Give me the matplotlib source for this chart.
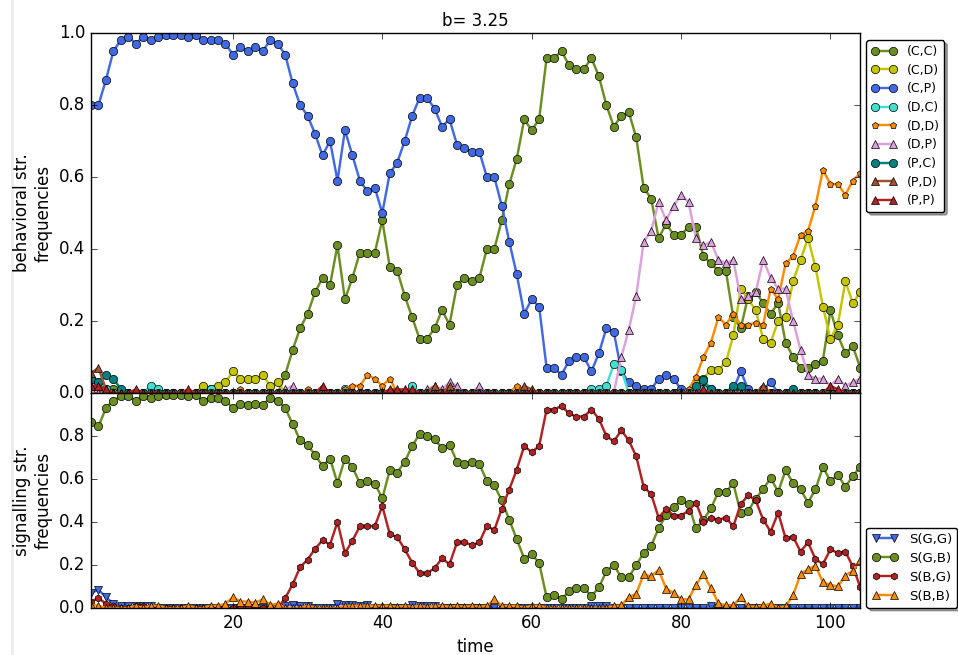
import numpy as np
import matplotlib
matplotlib.use('Agg')
import matplotlib.pyplot as plt
from matplotlib.lines import Line2D

plt.style.use('classic')
plt.rcParams['figure.facecolor'] = 'white'
plt.rcParams['savefig.facecolor'] = 'white'

time = np.arange(1, 105)

# behavioral strategies
cc = [0, 0, 0.01, 0.01, 0, 0, 0, 0, 0, 0,
      0, 0, 0, 0, 0, 0, 0, 0, 0, 0,
      0, 0, 0, 0, 0, 0, 0.05, 0.12, 0.18, 0.22,
      0.28, 0.32, 0.30, 0.41, 0.26, 0.32, 0.39, 0.39, 0.39, 0.48,
      0.35, 0.34, 0.27, 0.21, 0.15, 0.15, 0.18, 0.23, 0.19, 0.30,
      0.32, 0.31, 0.32, 0.40, 0.40, 0.48, 0.58, 0.65, 0.76, 0.73,
      0.76, 0.93, 0.93, 0.95, 0.91, 0.90, 0.90, 0.93, 0.88, 0.80,
      0.74, 0.77, 0.78, 0.71, 0.57, 0.54, 0.43, 0.47, 0.44, 0.44,
      0.46, 0.46, 0.38, 0.36, 0.34, 0.34, 0.21, 0.18, 0.27, 0.28,
      0.25, 0.22, 0.25, 0.14, 0.10, 0.07, 0.07, 0.08, 0.09, 0.23,
      0.16, 0.11, 0.13, 0.07]
cd = [0.01, 0, 0, 0, 0, 0, 0, 0, 0, 0,
      0, 0, 0, 0, 0, 0.02, 0.01, 0.02, 0.03, 0.06,
      0.04, 0.04, 0.04, 0.05, 0.02, 0.03, 0, 0, 0, 0,
      0, 0, 0, 0, 0, 0, 0, 0, 0, 0,
      0, 0, 0, 0, 0, 0, 0, 0, 0, 0,
      0, 0, 0, 0, 0, 0, 0, 0, 0, 0,
      0, 0, 0, 0, 0, 0, 0, 0, 0, 0,
      0, 0, 0, 0, 0, 0, 0, 0, 0, 0,
      0, 0.03, 0.04, 0.065, 0.065, 0.085, 0.16, 0.29, 0.26, 0.23,
      0.15, 0.14, 0.20, 0.21, 0.31, 0.37, 0.43, 0.35, 0.24, 0.15,
      0.19, 0.31, 0.25, 0.28]
cp = [0.80, 0.80, 0.87, 0.95, 0.98, 0.99, 0.97, 0.99, 0.98, 0.99,
      0.995, 0.995, 0.995, 0.99, 0.995, 0.98, 0.98, 0.98, 0.97, 0.94,
      0.96, 0.95, 0.96, 0.95, 0.98, 0.97, 0.94, 0.86, 0.80, 0.77,
      0.72, 0.66, 0.70, 0.59, 0.73, 0.66, 0.59, 0.56, 0.57, 0.50,
      0.61, 0.64, 0.70, 0.77, 0.82, 0.82, 0.79, 0.74, 0.76, 0.69,
      0.68, 0.67, 0.67, 0.60, 0.60, 0.52, 0.42, 0.33, 0.22, 0.26,
      0.24, 0.07, 0.07, 0.05, 0.09, 0.10, 0.10, 0.06, 0.11, 0.18,
      0.17, 0.06, 0.03, 0.02, 0.01, 0.01, 0.04, 0.05, 0.04, 0.01,
      0, 0, 0.01, 0.01, 0, 0, 0.01, 0.06, 0.01, 0,
      0.01, 0.03, 0, 0, 0, 0, 0, 0, 0, 0,
      0, 0, 0, 0]
dc = [0.04, 0.03, 0.01, 0, 0, 0, 0, 0, 0.02, 0.01,
      0, 0, 0, 0, 0, 0, 0.01, 0, 0, 0,
      0, 0, 0, 0, 0, 0, 0, 0, 0, 0,
      0, 0, 0, 0, 0.01, 0, 0, 0, 0, 0,
      0, 0, 0, 0.02, 0, 0, 0, 0, 0, 0,
      0, 0, 0, 0, 0, 0, 0, 0, 0, 0,
      0, 0, 0, 0, 0, 0, 0, 0.01, 0.01, 0.02,
      0.08, 0.065, 0, 0, 0, 0, 0, 0, 0, 0,
      0, 0, 0.01, 0, 0, 0, 0, 0, 0, 0,
      0, 0, 0, 0, 0, 0, 0, 0, 0, 0,
      0, 0, 0, 0]
dd = [0.01, 0, 0, 0, 0, 0, 0, 0, 0, 0,
      0, 0, 0, 0, 0, 0, 0, 0, 0, 0,
      0.01, 0, 0, 0, 0, 0, 0, 0, 0, 0.01,
      0, 0, 0, 0, 0.01, 0.02, 0.02, 0.05, 0.04, 0.02,
      0.04, 0, 0, 0, 0, 0, 0, 0, 0, 0,
      0, 0, 0, 0, 0, 0, 0, 0.02, 0.01, 0,
      0, 0, 0, 0, 0, 0, 0, 0, 0, 0,
      0, 0, 0, 0, 0, 0, 0, 0, 0, 0,
      0.01, 0.045, 0.10, 0.14, 0.21, 0.19, 0.22, 0.19, 0.19, 0.195,
      0.19, 0.29, 0.26, 0.36, 0.38, 0.44, 0.45, 0.52, 0.62, 0.58,
      0.58, 0.55, 0.59, 0.61]
dp = [0.01, 0, 0, 0, 0, 0, 0, 0, 0, 0,
      0, 0, 0, 0, 0, 0, 0, 0, 0, 0,
      0, 0, 0, 0, 0, 0, 0.01, 0.02, 0, 0,
      0, 0, 0, 0, 0, 0, 0, 0, 0, 0,
      0, 0, 0, 0, 0, 0.01, 0.02, 0.01, 0.03, 0.02,
      0, 0, 0.02, 0, 0, 0, 0, 0, 0, 0,
      0, 0, 0, 0, 0, 0, 0, 0, 0, 0,
      0, 0.10, 0.175, 0.27, 0.42, 0.45, 0.53, 0.48, 0.52, 0.55,
      0.53, 0.43, 0.41, 0.42, 0.37, 0.36, 0.37, 0.26, 0.27, 0.28,
      0.37, 0.32, 0.29, 0.29, 0.20, 0.12, 0.05, 0.04, 0.04, 0.02,
      0.04, 0.02, 0.03, 0.04]
pc = [0.04, 0.03, 0.05, 0.04, 0.01, 0, 0, 0, 0, 0,
      0, 0, 0, 0, 0, 0, 0, 0, 0, 0,
      0, 0, 0, 0, 0, 0, 0, 0, 0, 0,
      0, 0, 0, 0, 0, 0, 0, 0, 0, 0,
      0, 0, 0, 0, 0, 0, 0, 0, 0, 0,
      0, 0, 0, 0, 0, 0, 0, 0, 0, 0,
      0, 0, 0, 0, 0, 0, 0, 0, 0, 0,
      0, 0, 0, 0, 0, 0, 0, 0, 0, 0,
      0, 0.02, 0.035, 0.01, 0, 0, 0.02, 0.02, 0, 0,
      0, 0, 0, 0, 0.01, 0, 0, 0, 0, 0,
      0, 0, 0, 0]
pd_ = [0.055, 0.07, 0.01, 0, 0, 0, 0, 0, 0, 0,
       0, 0, 0, 0, 0, 0, 0, 0, 0, 0,
       0, 0, 0, 0, 0, 0, 0, 0, 0, 0,
       0, 0, 0, 0, 0, 0, 0, 0, 0, 0,
       0, 0, 0, 0, 0, 0, 0.02, 0, 0.02, 0,
       0, 0, 0, 0, 0, 0, 0, 0, 0.02, 0.01,
       0, 0, 0, 0, 0, 0, 0, 0, 0, 0,
       0, 0, 0, 0, 0, 0, 0, 0, 0, 0,
       0, 0, 0, 0, 0, 0, 0, 0, 0, 0,
       0.02, 0, 0, 0, 0, 0, 0, 0, 0, 0,
       0, 0, 0, 0]
pp = [0.02, 0.02, 0.01, 0, 0, 0, 0.01, 0, 0, 0,
      0, 0, 0, 0.01, 0, 0, 0, 0, 0, 0,
      0, 0, 0, 0, 0, 0, 0, 0, 0, 0,
      0, 0.02, 0, 0, 0, 0, 0, 0, 0, 0,
      0.01, 0.01, 0.01, 0.01, 0, 0, 0, 0, 0, 0,
      0, 0, 0, 0, 0, 0, 0, 0, 0, 0,
      0, 0, 0, 0, 0, 0, 0, 0, 0, 0,
      0, 0, 0, 0, 0, 0, 0, 0, 0, 0,
      0, 0, 0.01, 0, 0, 0, 0, 0, 0, 0,
      0, 0, 0, 0, 0, 0, 0, 0, 0, 0.02,
      0.01, 0, 0, 0]

# signalling strategies
sgg = [0.07, 0.085, 0.05, 0.02, 0.01, 0.01, 0.01, 0.01, 0.01, 0,
       0, 0, 0, 0, 0, 0, 0, 0, 0, 0,
       0, 0, 0, 0, 0, 0, 0.01, 0.015, 0.01, 0.01,
       0, 0, 0, 0.02, 0.015, 0.015, 0.01, 0.015, 0, 0,
       0, 0, 0, 0.015, 0.01, 0.01, 0.01, 0, 0, 0,
       0, 0, 0, 0, 0, 0, 0, 0, 0, 0,
       0, 0, 0, 0, 0, 0, 0, 0.01, 0.01, 0.01,
       0, 0, 0, 0, 0, 0, 0, 0, 0, 0,
       0, 0, 0, 0.01, 0, 0, 0, 0, 0, 0,
       0, 0, 0, 0, 0, 0, 0, 0, 0, 0,
       0, 0, 0, 0]
sgb = [0.865, 0.845, 0.93, 0.965, 0.985, 0.985, 0.965, 0.985, 0.977, 0.985,
       0.99, 0.99, 0.99, 0.985, 0.99, 0.965, 0.977, 0.977, 0.965, 0.93,
       0.95, 0.945, 0.95, 0.945, 0.977, 0.965, 0.93, 0.855, 0.78, 0.757,
       0.713, 0.66, 0.695, 0.58, 0.695, 0.655, 0.58, 0.59, 0.578, 0.51,
       0.64, 0.63, 0.68, 0.753, 0.81, 0.80, 0.784, 0.744, 0.76, 0.68,
       0.67, 0.68, 0.67, 0.59, 0.57, 0.50, 0.41, 0.32, 0.23, 0.25,
       0.21, 0.05, 0.06, 0.04, 0.077, 0.093, 0.093, 0.054, 0.096, 0.17,
       0.20, 0.142, 0.142, 0.20, 0.255, 0.29, 0.37, 0.432, 0.47, 0.50,
       0.483, 0.37, 0.41, 0.463, 0.54, 0.54, 0.579, 0.44, 0.452, 0.509,
       0.552, 0.605, 0.54, 0.64, 0.582, 0.552, 0.49, 0.552, 0.656, 0.59,
       0.62, 0.563, 0.614, 0.656]
sbg = [0.03, 0.046, 0.02, 0.01, 0, 0, 0.01, 0.01, 0, 0,
       0, 0, 0, 0, 0, 0, 0, 0, 0, 0,
       0, 0, 0, 0, 0, 0, 0.046, 0.11, 0.19, 0.225,
       0.275, 0.315, 0.295, 0.40, 0.255, 0.313, 0.38, 0.38, 0.38, 0.474,
       0.344, 0.33, 0.273, 0.211, 0.162, 0.162, 0.185, 0.231, 0.203, 0.305,
       0.305, 0.293, 0.305, 0.382, 0.362, 0.462, 0.551, 0.643, 0.753, 0.725,
       0.753, 0.923, 0.923, 0.94, 0.905, 0.89, 0.89, 0.923, 0.88, 0.80,
       0.775, 0.826, 0.78, 0.705, 0.563, 0.53, 0.42, 0.46, 0.43, 0.43,
       0.452, 0.49, 0.40, 0.42, 0.41, 0.42, 0.38, 0.483, 0.525, 0.50,
       0.41, 0.355, 0.443, 0.324, 0.332, 0.262, 0.305, 0.227, 0.204, 0.273,
       0.255, 0.262, 0.193, 0.096]
sbb = [0.015, 0.01, 0, 0, 0, 0, 0.01, 0, 0.01, 0.01,
       0, 0, 0, 0.01, 0, 0, 0.01, 0.01, 0.02, 0.05,
       0.03, 0.03, 0.025, 0.04, 0.015, 0.02, 0, 0, 0, 0.01,
       0, 0, 0, 0, 0.01, 0.01, 0.01, 0.01, 0.01, 0.01,
       0.01, 0.005, 0.01, 0.005, 0.01, 0.005, 0.01, 0.01, 0.005, 0.01,
       0.005, 0.01, 0.005, 0.01, 0.04, 0.01, 0.01, 0.01, 0, 0.01,
       0.01, 0, 0, 0, 0, 0, 0, 0, 0, 0,
       0.008, 0.012, 0.05, 0.066, 0.157, 0.147, 0.177, 0.09, 0.07, 0.04,
       0.04, 0.108, 0.157, 0.093, 0.023, 0.012, 0.012, 0.05, 0.008, 0.005,
       0.012, 0.02, 0, 0.008, 0.059, 0.157, 0.18, 0.197, 0.119, 0.108,
       0.10, 0.151, 0.173, 0.224]

top_series = [
    ('(C,C)', cc, 'olivedrab', 'o', 6),
    ('(C,D)', cd, '#c4c400', 'o', 6),
    ('(C,P)', cp, 'royalblue', 'o', 6),
    ('(D,C)', dc, 'turquoise', 'o', 6),
    ('(D,D)', dd, 'darkorange', 'p', 5),
    ('(D,P)', dp, 'plum', '^', 6),
    ('(P,C)', pc, 'teal', 'o', 6),
    ('(P,D)', pd_, 'sienna', '^', 6),
    ('(P,P)', pp, 'firebrick', '^', 6),
]
bottom_series = [
    ('S(G,G)', sgg, 'royalblue', 'v', 6),
    ('S(G,B)', sgb, 'olivedrab', 'o', 6),
    ('S(B,G)', sbg, 'firebrick', 'h', 5),
    ('S(B,B)', sbb, 'darkorange', '^', 6),
]

fig = plt.figure(figsize=(9.58, 6.55), dpi=100)
gs = fig.add_gridspec(2, 1, height_ratios=[360, 215], hspace=0,
                      left=0.095, right=0.898, top=0.9496, bottom=0.0718)
ax1 = fig.add_subplot(gs[0])
ax2 = fig.add_subplot(gs[1], sharex=ax1)

for lab, vals, col, m, ms in top_series:
    ax1.plot(time, vals, color=col, marker=m, ms=ms, lw=1.75, mec='k', mew=0.5,
             label=lab)
for lab, vals, col, m, ms in bottom_series:
    ax2.plot(time, vals, color=col, marker=m, ms=ms, lw=1.75, mec='k', mew=0.5,
             label=lab)

ax1.set_xlim(1, 104)
ax1.set_ylim(0, 1)
ax2.set_ylim(0, 1)
ax1.set_yticks([0, 0.2, 0.4, 0.6, 0.8, 1.0])
ax2.set_yticks([0, 0.2, 0.4, 0.6, 0.8])
ax2.set_xticks([20, 40, 60, 80, 100])
plt.setp(ax1.get_xticklabels(), visible=False)

ax1.set_title('b= 3.25', fontsize=12)
ax1.set_ylabel('behavioral str.\nfrequencies', fontsize=12)
ax2.set_ylabel('signalling str.\nfrequencies', fontsize=12)
ax2.set_xlabel('time', fontsize=12)

ax1.legend(loc='upper left', bbox_to_anchor=(1.008, 0.98), borderaxespad=0,
           fontsize=9, fancybox=True, shadow=True, numpoints=2,
           labelspacing=0.45, handlelength=2)
ax2.legend(loc='lower left', bbox_to_anchor=(1.008, 0.0), borderaxespad=0,
           fontsize=9.5, fancybox=True, shadow=True, numpoints=2,
           labelspacing=0.45, handlelength=2)

# faint frame line on the left edge of the screenshot
fig.add_artist(Line2D([0.0125, 0.0125], [0, 1], color='#eeeae8', lw=2,
                      zorder=-5))

fig.savefig('out.png', dpi=100)
